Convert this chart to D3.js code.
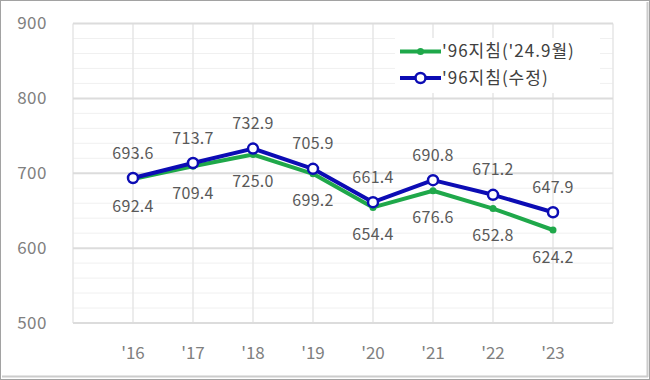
<!DOCTYPE html>
<html><head><meta charset="utf-8">
<script src="https://cdn.jsdelivr.net/npm/d3@7/dist/d3.min.js"></script>
<style>body{margin:0;background:#fff}svg{display:block}</style>
</head><body><svg id="c" width="650" height="380"></svg>
<script>
const categories = ["'16","'17","'18","'19","'20","'21","'22","'23"];
const years = [2016,2017,2018,2019,2020,2021,2022,2023];
const seriesNames = ["'96지침('24.9월)","'96지침(수정)"];
const greenValues = [692.4,709.4,725.0,699.2,654.4,676.6,652.8,624.2];
const blueValues = [693.6,713.7,732.9,705.9,661.4,690.8,671.2,647.9];
const yTicks = [500,600,700,800,900];

const svg = d3.select("#c");
const font = "'Noto Sans CJK KR','Noto Sans',sans-serif";
const x = d3.scaleLinear().domain([2015,2024]).range([73,613]);
const y = d3.scaleLinear().domain([500,900]).range([323,23.5]);

// outer frame
svg.append("rect").attr("x",0.5).attr("y",0.5).attr("width",649).attr("height",379)
  .attr("fill","none").attr("stroke","#444").attr("stroke-dasharray","1,1");
svg.append("line").attr("x1",647.5).attr("x2",647.5).attr("y1",2).attr("y2",377).attr("stroke","#ccc").attr("stroke-width",2);
svg.append("line").attr("x1",2).attr("x2",648).attr("y1",376.5).attr("y2",376.5).attr("stroke","#ccc").attr("stroke-width",2);

const g = svg.append("g");
// minor gridlines
g.selectAll(".minor").data(d3.range(520,900,20).filter(v=>v%100!==0)).join("line")
  .attr("x1",x(2015)).attr("x2",x(2024)).attr("y1",d=>y(d)).attr("y2",d=>y(d))
  .attr("stroke","#f0f0f0").attr("stroke-width",1);
// vertical gridlines
g.selectAll(".vg").data(d3.range(2015,2025)).join("line")
  .attr("x1",d=>x(d)).attr("x2",d=>x(d)).attr("y1",y(900)).attr("y2",y(500))
  .attr("stroke","#e6e6e6").attr("stroke-width",1.5);
// major gridlines
g.selectAll(".major").data(yTicks).join("line")
  .attr("x1",x(2015)).attr("x2",x(2024)).attr("y1",d=>y(d)).attr("y2",d=>y(d))
  .attr("stroke","#dcdcdc").attr("stroke-width",2);

// y labels
g.selectAll(".yl").data(yTicks).join("text")
  .attr("x",47).attr("y",d=>y(d)).attr("dy","0.35em").attr("text-anchor","end")
  .attr("font-family",font).attr("font-size",17).attr("letter-spacing",0.5).attr("fill","#808080").text(d=>d);
// x labels
g.selectAll(".xl").data(categories).join("text")
  .attr("x",(d,i)=>x(years[i])).attr("y",353).attr("dy","0.35em").attr("text-anchor","middle")
  .attr("font-family",font).attr("font-size",17).attr("fill","#808080").text(d=>d);

const line = d3.line().x((d,i)=>x(years[i])).y(d=>y(d));
const green = "#1fa84a", blue = "#0c0cb4";
g.append("path").datum(greenValues).attr("d",line).attr("fill","none").attr("stroke",green).attr("stroke-width",4).attr("stroke-linejoin","round");
g.selectAll(".gp").data(greenValues).join("circle")
  .attr("cx",(d,i)=>x(years[i])).attr("cy",d=>y(d)).attr("r",3.5).attr("fill",green);
g.append("path").datum(blueValues).attr("d",line).attr("fill","none").attr("stroke",blue).attr("stroke-width",4).attr("stroke-linejoin","round");
g.selectAll(".bp").data(blueValues).join("circle")
  .attr("cx",(d,i)=>x(years[i])).attr("cy",d=>y(d)).attr("r",5).attr("fill","#fff").attr("stroke",blue).attr("stroke-width",2.5);

// data labels
g.selectAll(".bl").data(blueValues).join("text")
  .attr("x",(d,i)=>x(years[i])).attr("y",d=>y(d)-25).attr("dy","0.35em").attr("text-anchor","middle")
  .attr("font-family",font).attr("font-size",16).attr("letter-spacing",0.3).attr("fill","#595959").text(d=>d.toFixed(1));
g.selectAll(".gl").data(greenValues).join("text")
  .attr("x",(d,i)=>x(years[i])).attr("y",d=>y(d)+27).attr("dy","0.35em").attr("text-anchor","middle")
  .attr("font-family",font).attr("font-size",16).attr("letter-spacing",0.3).attr("fill","#595959").text(d=>d.toFixed(1));

// legend
const lg = svg.append("g");
lg.append("rect").attr("x",395).attr("y",38).attr("width",205).attr("height",55).attr("fill","#fff");
const legendItems = [{name:seriesNames[0],color:green,open:false,yy:51.5},{name:seriesNames[1],color:blue,open:true,yy:78}];
legendItems.forEach(it=>{
  lg.append("line").attr("x1",400).attr("x2",441).attr("y1",it.yy).attr("y2",it.yy).attr("stroke",it.color).attr("stroke-width",4);
  if(it.open) lg.append("circle").attr("cx",420.5).attr("cy",it.yy).attr("r",5).attr("fill","#fff").attr("stroke",it.color).attr("stroke-width",2.5);
  else lg.append("circle").attr("cx",420.5).attr("cy",it.yy).attr("r",3.5).attr("fill",it.color);
  lg.append("text").attr("x",442).attr("y",it.yy).attr("dy","0.35em").attr("font-family",font).attr("font-size",17)
    .attr("letter-spacing",1).attr("fill","#404040").text(it.name);
});
</script></body></html>
